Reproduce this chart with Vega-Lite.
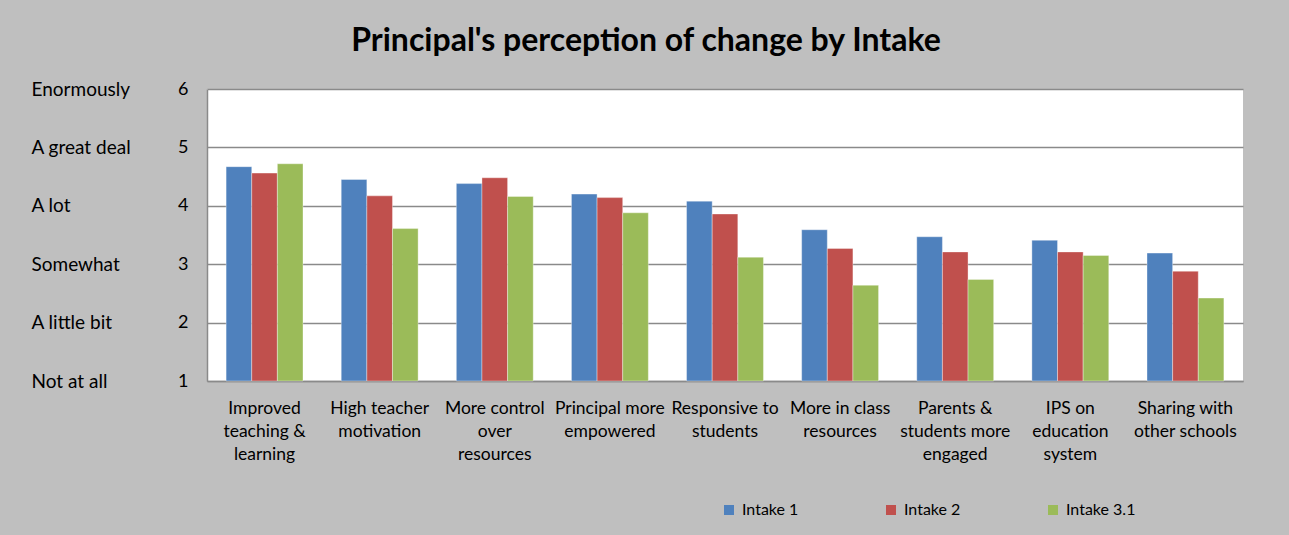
{
  "$schema": "https://vega.github.io/schema/vega-lite/v6.json",
  "width": 1036,
  "height": 292,
  "autosize": "none",
  "padding": {"top": 89, "left": 207, "right": 46, "bottom": 154},
  "background": "#bfbfbf",
  "title": {
    "text": "Principal's perception of change by Intake",
    "font": "Lato",
    "fontSize": 32,
    "fontWeight": "bold",
    "color": "#000000",
    "anchor": "middle",
    "frame": "group",
    "dx": -79,
    "dy": 25,
    "baseline": "alphabetic",
    "offset": 22
  },
  "data": {
    "values": [
      {"cat": "Improved|teaching &|learning", "series": "Intake 1", "v": 4.67},
      {"cat": "Improved|teaching &|learning", "series": "Intake 2", "v": 4.56},
      {"cat": "Improved|teaching &|learning", "series": "Intake 3.1", "v": 4.72},
      {"cat": "High teacher|motivation", "series": "Intake 1", "v": 4.45},
      {"cat": "High teacher|motivation", "series": "Intake 2", "v": 4.17},
      {"cat": "High teacher|motivation", "series": "Intake 3.1", "v": 3.61},
      {"cat": "More control|over|resources", "series": "Intake 1", "v": 4.38},
      {"cat": "More control|over|resources", "series": "Intake 2", "v": 4.48},
      {"cat": "More control|over|resources", "series": "Intake 3.1", "v": 4.16},
      {"cat": "Principal more|empowered", "series": "Intake 1", "v": 4.20},
      {"cat": "Principal more|empowered", "series": "Intake 2", "v": 4.14},
      {"cat": "Principal more|empowered", "series": "Intake 3.1", "v": 3.88},
      {"cat": "Responsive to|students", "series": "Intake 1", "v": 4.08},
      {"cat": "Responsive to|students", "series": "Intake 2", "v": 3.86},
      {"cat": "Responsive to|students", "series": "Intake 3.1", "v": 3.12},
      {"cat": "More in class|resources", "series": "Intake 1", "v": 3.59},
      {"cat": "More in class|resources", "series": "Intake 2", "v": 3.27},
      {"cat": "More in class|resources", "series": "Intake 3.1", "v": 2.64},
      {"cat": "Parents &|students more|engaged", "series": "Intake 1", "v": 3.47},
      {"cat": "Parents &|students more|engaged", "series": "Intake 2", "v": 3.21},
      {"cat": "Parents &|students more|engaged", "series": "Intake 3.1", "v": 2.74},
      {"cat": "IPS on|education|system", "series": "Intake 1", "v": 3.41},
      {"cat": "IPS on|education|system", "series": "Intake 2", "v": 3.21},
      {"cat": "IPS on|education|system", "series": "Intake 3.1", "v": 3.15},
      {"cat": "Sharing with|other schools", "series": "Intake 1", "v": 3.19},
      {"cat": "Sharing with|other schools", "series": "Intake 2", "v": 2.88},
      {"cat": "Sharing with|other schools", "series": "Intake 3.1", "v": 2.42}
    ]
  },
  "layer": [
    {
      "mark": {"type": "bar", "stroke": "#ffffff", "strokeWidth": 0.6, "strokeOpacity": 0.6},
      "encoding": {
        "x": {
          "field": "cat",
          "type": "nominal",
          "sort": null,
          "scale": {"paddingInner": 0.332, "paddingOuter": 0.166},
          "axis": {
            "title": null,
            "labelAngle": 0,
            "labelExpr": "split(datum.label, '|')",
            "labelFont": "Lato",
            "labelFontSize": 17.5,
            "labelLineHeight": 23,
            "labelColor": "#000000",
            "labelPadding": 18,
            "labelLimit": 0,
            "ticks": false,
            "domain": true,
            "domainColor": "#8a8a8a",
            "domainWidth": 1.5
          }
        },
        "xOffset": {"field": "series", "type": "nominal", "scale": {"paddingInner": 0, "paddingOuter": 0}},
        "y": {
          "field": "v",
          "type": "quantitative",
          "scale": {"domain": [1, 6], "nice": false, "zero": false},
          "axis": {
            "title": null,
            "values": [1, 2, 3, 4, 5, 6],
            "labelFont": "Lato",
            "labelFontSize": 18,
            "labelColor": "#000000",
            "labelPadding": 19,
            "ticks": false,
            "grid": true,
            "gridColor": "#8a8a8a",
            "gridWidth": 1.5,
            "domain": true,
            "domainColor": "#8a8a8a",
            "domainWidth": 1.5
          }
        },
        "y2": {"datum": 1},
        "color": {
          "field": "series",
          "type": "nominal",
          "scale": {"domain": ["Intake 1", "Intake 2", "Intake 3.1"], "range": ["#4f81bd", "#c0504d", "#9bbb59"]},
          "legend": {
            "title": null,
            "orient": "none",
            "legendX": 514,
            "legendY": 413,
            "direction": "horizontal",
            "columns": 3,
            "gridAlign": "all",
            "columnPadding": 71,
            "symbolType": "square",
            "symbolSize": 100,
            "symbolStrokeWidth": 0,
            "symbolOffset": 0,
            "labelFont": "Lato",
            "labelFontSize": 16,
            "labelColor": "#000000",
            "labelOffset": 5
          }
        }
      }
    },
    {
      "mark": {"type": "rule", "opacity": 0},
      "encoding": {
        "y": {
          "field": "v",
          "type": "quantitative",
          "scale": {"domain": [1, 6], "nice": false, "zero": false},
          "axis": {
            "orient": "left",
            "title": null,
            "values": [1, 2, 3, 4, 5, 6],
            "labelExpr": "['', 'Not at all', 'A little bit', 'Somewhat', 'A lot', 'A great deal', 'Enormously'][datum.value]",
            "labelAlign": "left",
            "labelPadding": 176,
            "labelFont": "Lato",
            "labelFontSize": 19,
            "labelColor": "#000000",
            "ticks": false,
            "grid": false,
            "domain": false
          }
        }
      }
    }
  ],
  "resolve": {"scale": {"y": "shared"}, "axis": {"y": "independent"}},
  "config": {
    "view": {"fill": "#ffffff", "stroke": null}
  }
}
